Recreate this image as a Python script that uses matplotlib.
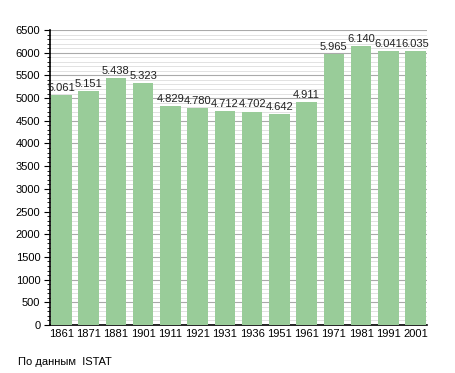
import matplotlib
matplotlib.use("Agg")
import matplotlib.pyplot as plt
from matplotlib.ticker import MultipleLocator

years = ["1861", "1871", "1881", "1901", "1911", "1921", "1931", "1936", "1951", "1961", "1971", "1981", "1991", "2001"]
population = [5061, 5151, 5438, 5323, 4829, 4780, 4712, 4702, 4642, 4911, 5965, 6140, 6041, 6035]
labels = ["5.061", "5.151", "5.438", "5.323", "4.829", "4.780", "4.712", "4.702", "4.642", "4.911", "5.965", "6.140", "6.041", "6.035"]

plt.rcParams['font.family'] = ['Liberation Sans', 'DejaVu Sans']
FS = 8

fig = plt.figure(figsize=(4.55, 3.73), dpi=100)
ax = fig.add_axes([50/455, 48/373, 377/455, 295/373])

x = list(range(len(years)))
ax.bar(x, population, width=0.75, color="#99cc99", zorder=3)
for xi, v, lab in zip(x, population, labels):
    ax.text(xi, v + 50, lab, ha="center", va="bottom", fontsize=FS, color="#222222", zorder=4)

ax.set_xlim(-0.42, 13.42)
ax.set_ylim(0, 6500)
ax.yaxis.set_major_locator(MultipleLocator(500))
ax.yaxis.set_minor_locator(MultipleLocator(100))
ax.grid(axis="y", which="major", color="#aaaaaa", linewidth=0.8, zorder=0)
ax.grid(axis="y", which="minor", color="#dddddd", linewidth=0.6, zorder=0)
ax.set_xticks(x)
ax.set_xticklabels(years)
ax.tick_params(axis="x", length=0, labelsize=FS, pad=3)
ax.tick_params(axis="y", which="major", length=4, width=0.8, labelsize=FS, pad=3)
ax.tick_params(axis="y", which="minor", length=2, width=0.6)
for s in ["top", "right"]:
    ax.spines[s].set_visible(False)
ax.spines["left"].set_linewidth(1.2)
ax.spines["bottom"].set_linewidth(1.2)

fig.text(18/455, 1 - 362/373, "По данным  ISTAT", fontsize=FS, va="center", ha="left")

fig.savefig("out.png", dpi=100)
